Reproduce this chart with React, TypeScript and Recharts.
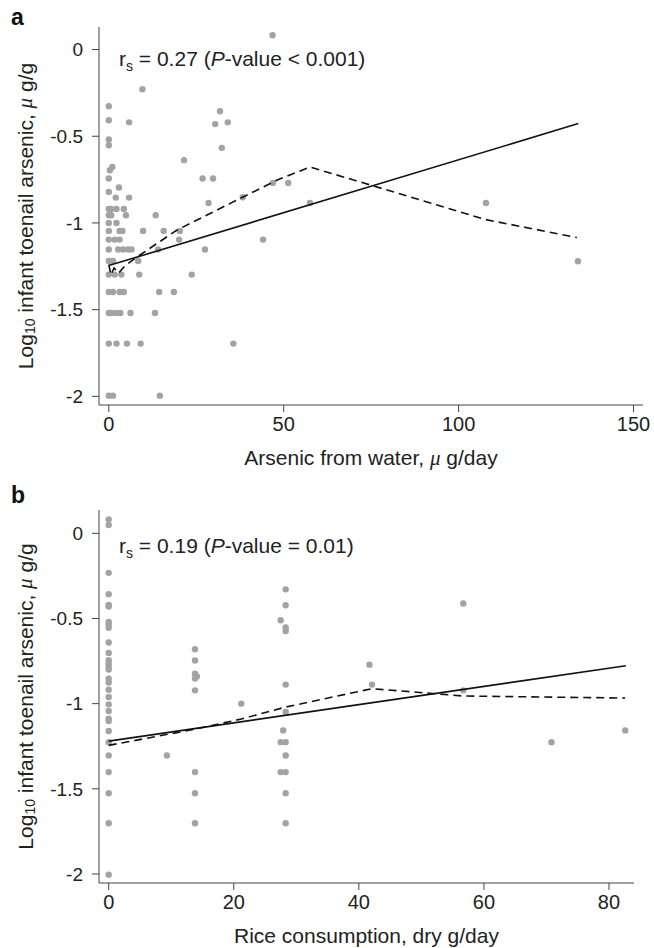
import React from "react";
import { Customized, Scatter, ScatterChart, XAxis, YAxis } from "recharts";

const FONT = '"Liberation Sans", Arial, Helvetica, sans-serif';
const AXIS = "#444";
const DOT = "#a3a3a3";

// panel a: arsenic from water (µg/day) vs log10 toenail arsenic
const waterX = [
  46.8, 9.6, 0, 0, 5.8, 31.8, 30.4, 34.0, 32.3, 0, 0, 21.5, 1.0, 0.3, 0, 26.8, 29.8, 2.9, 0, 2.0, 5.8, 38.3,
  28.5, 46.9, 51.3, 57.5, 107.8,
  0, 0.7, 2.2, 4.3,
  0, 0.7, 4.9, 13.4,
  0, 2.2,
  0, 3.1, 3.9, 9.8, 15.7, 20.3,
  0, 1.7, 3.1, 20.1, 44.1,
  0, 2.7, 4.1, 5.5, 6.5, 14.1, 27.5,
  0, 1.2, 8.4, 134.1,
  0, 1.7, 3.6, 8.7, 23.7,
  0, 1.2, 3.1, 4.3, 14.4, 18.6,
  0, 0.8, 2.2, 3.3, 6.2, 13.2,
  0, 2.2, 5.2, 9.1, 35.6,
  0, 1.2, 14.6,
];
const waterY = [
  0.082, -0.229, -0.327, -0.408, -0.42, -0.356, -0.43, -0.42, -0.567, -0.519, -0.552, -0.638, -0.677, -0.696,
  -0.744, -0.744, -0.744, -0.796, -0.821, -0.854, -0.854, -0.852,
  -0.885, -0.769, -0.769, -0.885, -0.885,
  -0.919, -0.919, -0.919, -0.919,
  -0.956, -0.956, -0.956, -0.956,
  -1.0, -1.0,
  -1.046, -1.046, -1.046, -1.046, -1.046, -1.046,
  -1.096, -1.096, -1.096, -1.096, -1.096,
  -1.153, -1.153, -1.153, -1.153, -1.153, -1.153, -1.153,
  -1.219, -1.219, -1.219, -1.221,
  -1.298, -1.298, -1.298, -1.298, -1.298,
  -1.398, -1.398, -1.398, -1.398, -1.398, -1.398,
  -1.519, -1.519, -1.519, -1.519, -1.519, -1.519,
  -1.696, -1.696, -1.696, -1.696, -1.696,
  -1.996, -1.996, -1.996,
];
const waterFitX = [0, 134.2];
const waterFitY = [-1.246, -0.427];
const waterLowessX = [0, 0.6, 1.5, 2.8, 4.5, 8.1, 19.4, 38.4, 48, 57.5, 107.8, 133.8];
const waterLowessY = [-1.24, -1.3, -1.26, -1.29, -1.25, -1.196, -1.042, -0.85, -0.754, -0.677, -0.981, -1.084];

// panel b: rice consumption (dry g/day) vs log10 toenail arsenic
const riceX = [
  0, 0, 0, 0, 0, 0, 0, 0, 0, 0, 0, 0, 0, 0, 0, 0, 0, 0, 0, 0, 0, 0, 0, 0, 0, 0, 0, 0, 0, 0,
  13.8, 13.8, 13.8, 13.8, 13.8, 13.8, 13.8, 13.8, 14.1,
  9.3, 21.2,
  28.3, 28.3, 28.3, 28.3, 28.3, 28.3, 28.3, 28.3, 28.3, 28.3, 28.3,
  27.5, 27.9, 27.5, 27.5,
  41.7, 42.1, 56.7, 56.7, 70.8, 82.6,
];
const riceY = [
  0.082, 0.049, -0.232, -0.357, -0.42, -0.43, -0.52, -0.535, -0.555, -0.641, -0.702, -0.745, -0.765, -0.785,
  -0.8, -0.853, -0.876, -0.918, -0.961, -1.004, -1.043, -1.088, -1.102, -1.161, -1.226, -1.304, -1.402,
  -1.526, -1.702, -2.004,
  -0.681, -0.747, -0.824, -0.853, -0.922, -1.402, -1.526, -1.702, -0.84,
  -1.304, -1.0,
  -0.329, -0.422, -0.553, -0.573, -0.888, -1.049, -1.226, -1.304, -1.402, -1.526, -1.702,
  -0.51, -1.157, -1.226, -1.402,
  -0.771, -0.888, -0.412, -0.922, -1.226, -1.157,
];
const riceFitX = [0, 82.7];
const riceFitY = [-1.22, -0.777];
const riceLowessX = [0, 13.8, 21.2, 28.3, 42.1, 56.7, 82.6];
const riceLowessY = [-1.245, -1.15, -1.09, -1.02, -0.912, -0.955, -0.967];

const yTicks = [-2, -1.5, -1, -0.5, 0];
const waterTicks = [0, 50, 100, 150];
const riceTicks = [0, 20, 40, 60, 80];

const zip = (xs: number[], ys: number[]) => xs.map((x, i) => ({ x, y: ys[i] }));

const Dot = (props: any) => <circle cx={props.cx} cy={props.cy} r={3.2} fill={DOT} />;
const NoDot = () => <g />;

const YTitle = ({ viewBox }: any) => {
  const cx = viewBox.x - 14;
  const cy = viewBox.y + viewBox.height / 2;
  return (
    <text
      x={cx}
      y={cy}
      transform={`rotate(-90 ${cx} ${cy})`}
      textAnchor="middle"
      dominantBaseline="central"
      fontFamily={FONT}
      fontSize={21}
      fill="#222"
    >
      Log
      <tspan dy={5} fontSize={14}>10</tspan>
      <tspan dy={-5}> infant toenail arsenic, </tspan>
      <tspan fontStyle="italic" fontFamily='"Liberation Serif", serif'>μ</tspan>
      <tspan> g/g</tspan>
    </text>
  );
};

const XTitle = ({ viewBox, before, after }: any) => (
  <text
    x={viewBox.x + viewBox.width / 2}
    y={viewBox.y + 60}
    textAnchor="middle"
    fontFamily={FONT}
    fontSize={21}
    fill="#222"
  >
    {before}
    {after !== undefined && <tspan fontStyle="italic" fontFamily='"Liberation Serif", serif'>μ</tspan>}
    {after}
  </text>
);

const Note = ({ x, y, r, p }: { x: number; y: number; r: string; p: string }) => (
  <text x={x} y={y} fontFamily={FONT} fontSize={21} fill="#222">
    r<tspan dy={5} fontSize={14}>s</tspan>
    <tspan dy={-5}>{` = ${r} (`}</tspan>
    <tspan fontStyle="italic">P</tspan>
    <tspan>{`-value ${p})`}</tspan>
  </text>
);

const PanelLetter = ({ x, y, t }: { x: number; y: number; t: string }) => (
  <text x={x} y={y} fontFamily={FONT} fontSize={23} fontWeight="bold" fill="#111">
    {t}
  </text>
);

const tickY = { fontFamily: FONT, fontSize: 19, fill: "#222" };
const tickX = { fontFamily: FONT, fontSize: 20, fill: "#222" };

export default function App() {
  return (
    <div style={{ position: "absolute", left: 0, top: 0, width: 654, height: 948, background: "#fff" }}>
      <ScatterChart width={654} height={470} margin={{ top: 27, right: 11, left: 39, bottom: 15 }}>
        <XAxis
          type="number"
          dataKey="x"
          domain={[-2.8, 152.7]}
          ticks={waterTicks}
          allowDataOverflow
          height={50}
          stroke={AXIS}
          tickSize={7}
          tickMargin={5}
          tick={tickX}
          label={{ content: (p: any) => <XTitle {...p} before="Arsenic from water, " after=" g/day" /> }}
        />
        <YAxis
          type="number"
          dataKey="y"
          domain={[-2.05, 0.13]}
          ticks={yTicks}
          allowDataOverflow
          width={60}
          stroke={AXIS}
          tickSize={7}
          tickMargin={9}
          tick={tickY}
          label={{ content: (p: any) => <YTitle {...p} /> }}
        />
        <Scatter data={zip(waterX, waterY)} shape={Dot} isAnimationActive={false} />
        <Scatter
          data={zip(waterFitX, waterFitY)}
          shape={NoDot}
          line={{ stroke: "#111", strokeWidth: 1.6 }}
          isAnimationActive={false}
        />
        <Scatter
          data={zip(waterLowessX, waterLowessY)}
          shape={NoDot}
          line={{ stroke: "#111", strokeWidth: 1.6, strokeDasharray: "8 5" }}
          isAnimationActive={false}
        />
        <Customized
          component={() => (
            <g>
              <PanelLetter x={11} y={25} t="a" />
              <Note x={119} y={66} r="0.27" p="< 0.001" />
            </g>
          )}
        />
      </ScatterChart>
      <ScatterChart width={654} height={478} margin={{ top: 40, right: 20, left: 39, bottom: 15 }}>
        <XAxis
          type="number"
          dataKey="x"
          domain={[-1.55, 84]}
          ticks={riceTicks}
          allowDataOverflow
          height={50}
          stroke={AXIS}
          tickSize={7}
          tickMargin={5}
          tick={tickX}
          label={{ content: (p: any) => <XTitle {...p} before="Rice consumption, dry g/day" /> }}
        />
        <YAxis
          type="number"
          dataKey="y"
          domain={[-2.053, 0.137]}
          ticks={yTicks}
          allowDataOverflow
          width={60}
          stroke={AXIS}
          tickSize={7}
          tickMargin={9}
          tick={tickY}
          label={{ content: (p: any) => <YTitle {...p} /> }}
        />
        <Scatter data={zip(riceX, riceY)} shape={Dot} isAnimationActive={false} />
        <Scatter
          data={zip(riceFitX, riceFitY)}
          shape={NoDot}
          line={{ stroke: "#111", strokeWidth: 1.6 }}
          isAnimationActive={false}
        />
        <Scatter
          data={zip(riceLowessX, riceLowessY)}
          shape={NoDot}
          line={{ stroke: "#111", strokeWidth: 1.6, strokeDasharray: "8 5" }}
          isAnimationActive={false}
        />
        <Customized
          component={() => (
            <g>
              <PanelLetter x={11} y={33} t="b" />
              <Note x={119} y={83} r="0.19" p="= 0.01" />
            </g>
          )}
        />
      </ScatterChart>
    </div>
  );
}
